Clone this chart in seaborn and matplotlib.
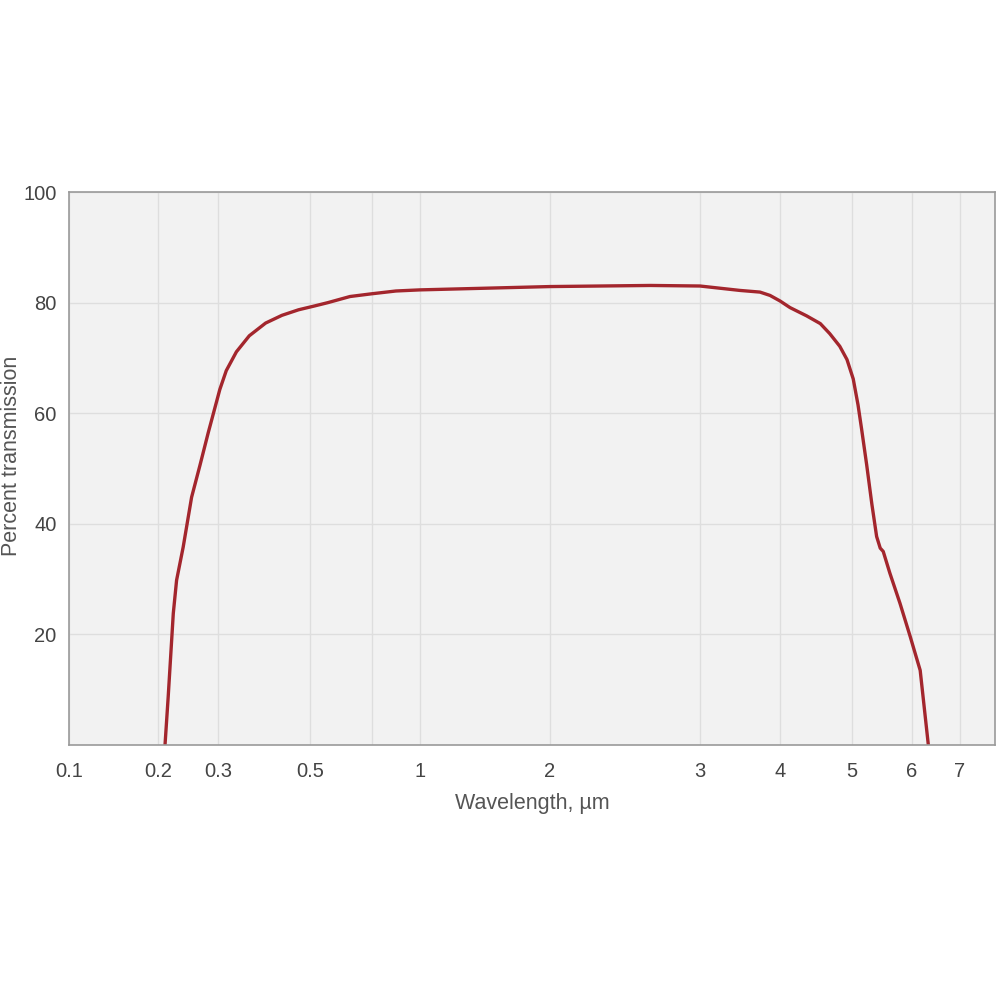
import numpy as np
import pandas as pd
import matplotlib
matplotlib.use("Agg")
import matplotlib.pyplot as plt
import seaborn as sns

# Transmission curve
wavelength = [0.2117, 0.217, 0.2255, 0.231, 0.242, 0.256, 0.270, 0.2838, 0.2895,
              0.304, 0.318, 0.340, 0.368, 0.4035, 0.439, 0.475, 0.515, 0.558, 0.629,
              0.70, 0.85, 1.0, 1.5, 2.0, 2.67, 3.0, 3.5, 3.75, 3.875, 4.0, 4.139,
              4.37, 4.56, 4.69, 4.83, 4.93, 5.02, 5.1, 5.16, 5.245, 5.33, 5.41,
              5.47, 5.52, 5.63, 5.80, 5.97, 6.17, 6.34]
transmission = [0.0, 8.7, 23.8, 29.8, 35.8, 44.8, 50.6, 56.5, 58.8,
                64.3, 67.7, 71.1, 74.0, 76.3, 77.7, 78.7, 79.4, 80.0, 81.1,
                81.6, 82.1, 82.3, 82.6, 82.9, 83.1, 83.0, 82.2, 81.9, 81.3, 80.3, 79.1,
                77.6, 76.2, 74.4, 72.1, 69.7, 66.2, 61.5, 57.1, 50.6, 43.6, 37.7,
                35.6, 35.0, 31.1, 25.6, 19.6, 13.5, 0.0]

xtick_vals = [0.1, 0.2, 0.3, 0.5, 0.7, 1, 2, 3, 4, 5, 6, 7]
xtick_labels = ["0.1", "0.2", "0.3", "0.5", "", "1", "2", "3", "4", "5", "6", "7"]
ytick_vals = [20, 40, 60, 80, 100]

# the source chart uses an irregular wavelength axis; map it piecewise
scale_vals = np.array([0.1, 0.2, 0.3, 0.5, 0.7, 1, 2, 3, 4, 5, 6, 7, 7.73])
scale_pos = np.array([0, 0.0961, 0.1609, 0.2603, 0.3272, 0.3790, 0.5194,
                      0.6814, 0.7678, 0.8456, 0.9104, 0.9622, 1.0])


def fwd(x):
    return np.interp(x, scale_vals, scale_pos)


def inv(u):
    return np.interp(u, scale_pos, scale_vals)


df = pd.DataFrame({"Wavelength": wavelength, "Transmission": transmission})

sns.set_style("white")
plt.rcParams["font.family"] = ["Liberation Sans", "DejaVu Sans"]

fig = plt.figure(figsize=(10, 10), dpi=100)
ax = fig.add_axes([0.069, 0.255, 0.926, 0.553])
ax.set_facecolor("#f2f2f2")

sns.lineplot(data=df, x="Wavelength", y="Transmission", ax=ax,
             color="#a3262d", linewidth=2.4, sort=False,
             solid_joinstyle="round", solid_capstyle="round")

ax.set_xscale("function", functions=(fwd, inv))
ax.set_xlim(0.1, 7.73)
ax.set_ylim(0, 100)
ax.set_xticks(xtick_vals)
ax.set_xticklabels(xtick_labels)
ax.minorticks_off()
ax.set_yticks(ytick_vals)

ax.grid(True, color="#dedede", linewidth=1)
ax.set_axisbelow(True)
for s in ax.spines.values():
    s.set_color("#9a9a9a")
    s.set_linewidth(1.2)

ax.tick_params(axis="both", length=0, labelsize=14.5, labelcolor="#444444")
ax.tick_params(axis="x", pad=12)
ax.tick_params(axis="y", pad=9)

ax.set_xlabel("Wavelength, µm", fontsize=15.5, color="#555555", labelpad=9)
ax.set_ylabel("")
fig.text(0.012, 0.544, "Percent transmission", rotation=90, fontsize=15.5,
         color="#555555", ha="center", va="center")

fig.savefig("out.png", dpi=100, facecolor="white")
plt.close(fig)
